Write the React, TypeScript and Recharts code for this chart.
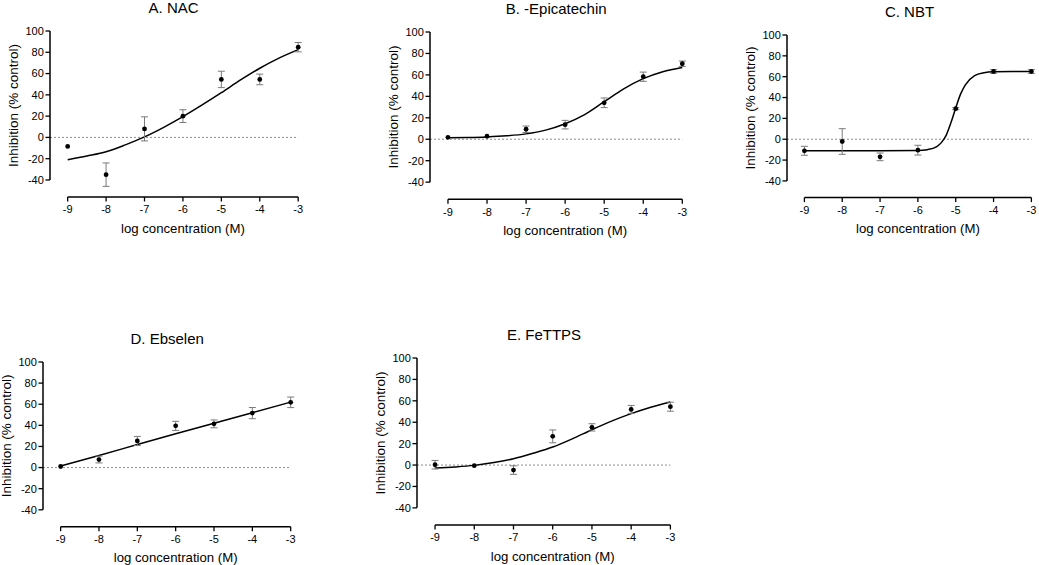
import React from "react";
import {
  ComposedChart,
  Line,
  Scatter,
  ErrorBar,
  XAxis,
  YAxis,
  ReferenceLine,
  Label,
} from "recharts";

// log concentration (M) of the measured points
const xValues = [-9, -8, -7, -6, -5, -4, -3];

// A. NAC
const nacMean = [-8.5, -35, 8, 20, 54.5, 54.5, 84.8];
const nacErr = [null, 11, 11.3, 6, 7.7, 5, 4.4];

// B. -Epicatechin
const epiMean = [1.8, 2.8, 9.3, 13.6, 34, 58.3, 70.4];
const epiErr = [null, null, 3, 4, 4.5, 4.3, 2.5];

// C. NBT
const nbtMean = [-11.1, -2.2, -16.9, -10.5, 29.3, 65, 65];
const nbtErr = [4.3, 12.3, 3.7, 4.7, 1, 1.8, 1.8];

// D. Ebselen
const ebsMean = [1, 7.6, 25.2, 39.5, 41.4, 51.6, 61.8];
const ebsErr = [null, 3.2, 4.3, 4.3, 3.7, 5.3, 5];

// E. FeTTPS
const feMean = [0.3, -0.6, -4.7, 26.8, 35.2, 52, 54.5];
const feErr = [4, null, 4, 6, 3.4, 3.7, 4.2];

// fitted curves
const curveX = [-9, -8.5, -8, -7.5, -7, -6.5, -6, -5.5, -5, -4.5, -4, -3.5, -3];
const nacCurve = [-21, -17.5, -13.5, -7, 0.5, 9.5, 19.5, 30.5, 42, 54, 65, 74.5, 82.5];
const epiCurve = [1.5, 1.7, 2.2, 3.2, 5, 8.5, 14.5, 23, 35, 47, 56.5, 63, 67];
const feCurve = [-2.8, -1.8, -0.3, 2.3, 5.9, 11, 16.8, 24.5, 33, 41, 48, 54, 58.9];

const nbtCurveX = [-9, -8, -7, -6, -5.75, -5.5, -5.375, -5.25, -5.125, -5, -4.875, -4.75, -4.5, -4.25, -4, -3.5, -3];
const nbtCurve = [-11, -11, -11, -10.8, -10, -7, -3, 4, 16, 30, 43, 52, 61, 63.8, 64.7, 65, 65];

const ebsCurveX = [-9, -8, -7, -6, -5, -4, -3];
const ebsCurve = [1.5, 11.5, 21.8, 32, 42, 52, 62];

const xTicks = [-9, -8, -7, -6, -5, -4, -3];
const yTicks = [-40, -20, 0, 20, 40, 60, 80, 100];

const X_MIN = -9.46;
const Y_MIN = -56;
const FONT = "'Liberation Sans', Arial, sans-serif";

const toPoints = (mean: number[], err: (number | null)[]) =>
  xValues.map((x, i) => ({ x, y: mean[i], err: err[i] }));
const toCurve = (xs: number[], ys: number[]) => xs.map((x, i) => ({ x, y: ys[i] }));

const panels = [
  { title: "A. NAC", left: 49.5, top: 30.7, w: 248.2, h: 166, points: toPoints(nacMean, nacErr), curve: toCurve(curveX, nacCurve) },
  { title: "B. -Epicatechin", left: 430, top: 32, w: 252.3, h: 167.3, points: toPoints(epiMean, epiErr), curve: toCurve(curveX, epiCurve) },
  { title: "C. NBT", left: 787.3, top: 34.7, w: 244.4, h: 162.6, points: toPoints(nbtMean, nbtErr), curve: toCurve(nbtCurveX, nbtCurve) },
  { title: "D. Ebselen", left: 43.3, top: 362, w: 247.7, h: 164.7, points: toPoints(ebsMean, ebsErr), curve: toCurve(ebsCurveX, ebsCurve) },
  { title: "E. FeTTPS", left: 417.3, top: 358.3, w: 253.4, h: 167, points: toPoints(feMean, feErr), curve: toCurve(curveX, feCurve) },
];

const ML = 60;
const MT = 30;
const MR = 14;
const XH = 50;

function Panel({ p }: { p: (typeof panels)[number] }) {
  const { w, h } = p;
  const span = -3 - X_MIN;
  const gapX = ((-9 - X_MIN) / span) * w;
  const xLabelX = ML + gapX + (w - gapX) / 2;
  const yLen = (h * 140) / (100 - Y_MIN);
  const yLabelY = MT + yLen / 2;

  // axis title plus the offset y-axis line (100 down to -40)
  const renderYLabel = () => (
    <g>
      <line x1={ML} y1={MT} x2={ML} y2={MT + yLen} stroke="#000" strokeWidth={1.5} />
      <text
        x={ML - 36}
        y={yLabelY}
        transform={`rotate(-90 ${ML - 36} ${yLabelY})`}
        textAnchor="middle"
        dominantBaseline="central"
        fontSize={13.5}
        fontFamily={FONT}
        fill="#000"
      >
        Inhibition (% control)
      </text>
    </g>
  );
  // axis title plus the offset x-axis line (-9 to -3)
  const renderXLabel = () => (
    <g>
      <line x1={ML + gapX} y1={MT + h} x2={ML + w} y2={MT + h} stroke="#000" strokeWidth={1.5} />
      <text x={xLabelX} y={MT + h + 35.6} textAnchor="middle" fontSize={13.2} fontFamily={FONT} fill="#000">
        log concentration (M)
      </text>
    </g>
  );

  return (
    <div style={{ position: "absolute", left: p.left - ML, top: p.top - MT }}>
      <div
        style={{
          position: "absolute",
          left: ML,
          width: w,
          top: -2.2,
          textAlign: "center",
          fontFamily: FONT,
          fontSize: 15,
          lineHeight: "17px",
          whiteSpace: "nowrap",
        }}
      >
        {p.title}
      </div>
      <ComposedChart
        width={ML + w + MR}
        height={MT + h + XH}
        margin={{ top: MT, right: MR, bottom: 0, left: 0 }}
        style={{ fontFamily: FONT }}
      >
        <XAxis
          dataKey="x"
          type="number"
          domain={[X_MIN, -3]}
          ticks={xTicks}
          interval={0}
          height={XH}
          axisLine={false}
          tickLine={{ stroke: "#000", strokeWidth: 1.3 }}
          tickSize={4.5}
          tickMargin={4}
          tick={{ fontSize: 11, fill: "#000", fontFamily: FONT }}
          label={<Label content={renderXLabel} />}
        />
        <YAxis
          type="number"
          domain={[Y_MIN, 100]}
          ticks={yTicks}
          interval={0}
          width={ML}
          axisLine={false}
          tickLine={{ stroke: "#000", strokeWidth: 1.3 }}
          tickSize={4.5}
          tickMargin={1.7}
          tick={{ fontSize: 11, fill: "#000", fontFamily: FONT }}
          label={<Label content={renderYLabel} />}
        />
        <ReferenceLine y={0} stroke="#8a8a8a" strokeWidth={1} strokeDasharray="2 2" ifOverflow="visible" />
        <Line
          data={p.curve}
          dataKey="y"
          type="monotone"
          stroke="#000"
          strokeWidth={1.5}
          dot={false}
          activeDot={false}
          isAnimationActive={false}
        />
        <Scatter
          data={p.points}
          dataKey="y"
          isAnimationActive={false}
          shape={(s: any) => <circle cx={s.cx} cy={s.cy} r={2.4} fill="#000" />}
        >
          <ErrorBar dataKey="err" direction="y" width={3.5} stroke="#7a7a7a" strokeWidth={1} isAnimationActive={false} />
        </Scatter>
      </ComposedChart>
    </div>
  );
}

export default function App() {
  return (
    <div style={{ position: "absolute", left: 0, top: 0, width: 1039, height: 565, background: "#fff" }}>
      {panels.map((p) => (
        <Panel key={p.title} p={p} />
      ))}
    </div>
  );
}
